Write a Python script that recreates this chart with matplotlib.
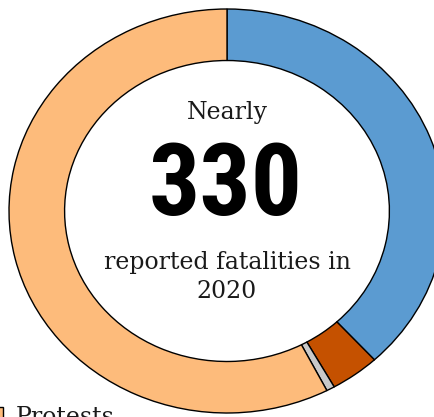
import matplotlib
matplotlib.use("Agg")
import matplotlib.pyplot as plt
from matplotlib.patches import Rectangle

# fatalities by event type
categories = ["Violence against civilians", "Battles", "Riots", "Protests"]
values = [126, 12, 2, 190]
colors = ["#5b9bd1", "#c55100", "#c9c9c9", "#fdbb7b"]

fig = plt.figure(figsize=(4.35, 4.17), dpi=100)
W, H = 435, 417
ax = fig.add_axes([9 / W, 4 / H, 436 / W, 404 / H])

ax.pie(values, colors=colors, startangle=90, counterclock=False,
       radius=1, wedgeprops=dict(width=0.255, edgecolor="black", linewidth=1))
ax.set_aspect("auto")
ax.set_xlim(-1, 1)
ax.set_ylim(-1, 1)
ax.axis("off")

serif = "DejaVu Serif"
txt = "#1a1a1a"
fig.text(227 / W, 1 - 112 / H, "Nearly", ha="center", va="center",
         fontsize=17, family=serif, color=txt)
fig.text(226 / W, 1 - 188 / H, "330", ha="center", va="center",
         fontsize=73, family=["Roboto Condensed", "Roboto", "DejaVu Sans"],
         fontweight="bold", color="black")
fig.text(227 / W, 1 - 263 / H, "reported fatalities in", ha="center", va="center",
         fontsize=17, family=serif, color=txt)
fig.text(227 / W, 1 - 292 / H, "2020", ha="center", va="center",
         fontsize=17, family=serif, color=txt)

# legend entry cut off at the bottom edge
fig.patches.append(Rectangle((-10 / W, 1 - 420 / H), 13 / W, 13 / H,
                             transform=fig.transFigure, facecolor=colors[3],
                             edgecolor="black", linewidth=1))
fig.text(16 / W, 1 - 406 / H, categories[3], ha="left", va="top",
         fontsize=17, family=serif, color=txt)

fig.savefig("out.png", dpi=100)
